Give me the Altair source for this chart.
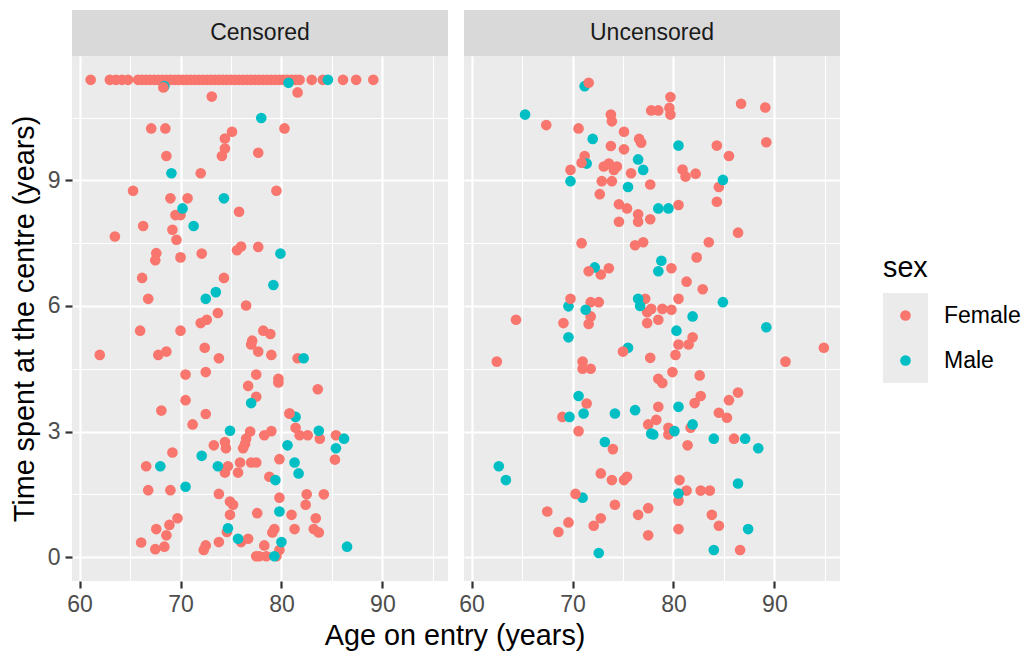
import altair as alt
import pandas as pd

FONT = "Liberation Sans"

status_levels = ["Censored", "Uncensored"]
sex_levels = ["Female", "Male"]
sex_colors = ["#F8766D", "#00BFC4"]

x_ticks = [60, 65, 70, 75, 80, 85, 90, 95]
y_ticks = [0, 1.5, 3, 4.5, 6, 7.5, 9, 10.5]

# (age on entry, time spent at the centre)
cens_female = [
    (61.1, 11.4), (63.0, 11.4), (63.6, 11.4), (64.2, 11.4), (64.8, 11.4), (65.8, 11.4),
    (66.2, 11.4), (66.6, 11.4), (67.0, 11.4), (67.4, 11.4), (67.8, 11.4), (68.2, 11.4),
    (68.6, 11.4), (69.0, 11.4), (69.4, 11.4), (69.8, 11.4), (70.2, 11.4), (70.6, 11.4),
    (71.0, 11.4), (71.4, 11.4), (71.8, 11.4), (72.2, 11.4), (72.6, 11.4), (73.0, 11.4),
    (73.4, 11.4), (73.8, 11.4), (74.2, 11.4), (74.6, 11.4), (75.0, 11.4), (75.4, 11.4),
    (75.8, 11.4), (76.2, 11.4), (76.6, 11.4), (77.0, 11.4), (77.4, 11.4), (77.8, 11.4),
    (78.2, 11.4), (78.6, 11.4), (79.0, 11.4), (79.4, 11.4), (79.8, 11.4), (80.2, 11.4),
    (80.6, 11.4), (81.0, 11.4), (81.4, 11.4), (81.8, 11.4), (83.0, 11.4), (84.1, 11.4),
    (86.1, 11.4), (87.4, 11.4), (89.1, 11.4),
    (73.1, 11.0), (81.6, 11.1), (67.1, 10.24), (68.5, 10.24), (75.1, 10.16), (74.4, 10.0),
    (74.4, 9.76), (74.1, 9.58), (68.6, 9.58), (77.7, 9.66), (80.3, 10.24),
    (72.0, 9.17), (65.3, 8.75), (69.0, 8.57), (70.7, 8.57), (69.5, 8.17), (70.0, 8.17),
    (75.8, 8.25), (66.3, 7.91), (69.2, 7.82), (63.5, 7.66), (69.6, 7.58), (67.6, 7.26),
    (67.5, 7.09), (70.0, 7.16), (72.1, 7.25), (75.6, 7.33), (76.0, 7.42), (77.7, 7.41),
    (79.5, 8.75), (66.2, 6.67), (74.3, 6.67), (66.8, 6.17), (76.5, 6.01), (73.7, 5.83),
    (72.6, 5.67), (72.0, 5.59), (66.0, 5.41), (70.0, 5.41), (77.1, 5.17), (77.0, 5.08),
    (77.7, 4.91), (62.0, 4.83), (67.8, 4.83), (68.6, 4.91), (72.4, 5.0), (73.8, 4.75),
    (70.5, 4.36), (72.5, 4.42), (77.5, 4.36), (78.2, 5.41), (78.9, 5.33), (79.0, 4.83),
    (81.6, 4.75), (79.7, 4.26), (76.7, 4.09), (77.5, 3.83), (70.5, 3.75), (68.1, 3.5),
    (72.5, 3.42), (71.2, 3.17), (76.9, 3.0), (76.5, 2.83), (76.4, 2.71), (76.2, 2.6),
    (73.3, 2.67), (74.4, 2.75), (74.5, 2.6), (69.2, 2.5), (66.6, 2.17), (74.7, 2.17),
    (74.4, 2.02), (75.7, 2.02), (75.9, 2.26), (77.0, 2.26), (77.5, 2.26), (66.8, 1.6),
    (69.0, 1.6), (73.8, 1.51), (74.9, 1.33), (75.2, 1.25), (74.9, 1.01), (77.6, 1.05),
    (69.7, 0.93), (68.9, 0.77), (67.6, 0.67), (68.6, 0.52), (66.1, 0.35), (67.5, 0.19),
    (68.4, 0.25), (74.6, 0.6), (76.0, 0.36), (76.7, 0.44), (73.8, 0.36), (72.3, 0.17),
    (72.5, 0.28), (77.5, 0.02), (79.7, 4.17), (83.6, 4.01), (80.8, 3.43), (81.4, 3.09),
    (81.8, 2.91), (82.6, 2.91), (83.8, 2.83), (85.4, 2.91), (85.3, 2.33), (78.3, 2.91),
    (79.0, 3.01), (79.8, 2.34), (78.8, 1.92), (79.8, 1.42), (81.0, 1.01), (82.5, 1.5),
    (82.4, 1.25), (84.2, 1.5), (81.3, 0.67), (83.4, 0.93), (83.2, 0.67), (83.7, 0.59),
    (79.3, 0.67), (79.1, 0.59), (79.8, 0.17), (78.3, 0.28), (77.8, 0.02), (78.5, 0.02),
    (79.5, 0.02),
]
# female points that lie on top of male points
cens_female_front = [(68.3, 11.22), (80.8, 3.43)]

cens_male = [
    (68.4, 11.25), (80.7, 11.33), (84.6, 11.4), (78.0, 10.49), (69.1, 9.17),
    (74.3, 8.57), (70.2, 8.33), (71.3, 7.91), (73.5, 6.33), (72.5, 6.17), (79.9, 7.25),
    (79.2, 6.5), (82.2, 4.75), (77.0, 3.68), (74.9, 3.02), (72.1, 2.42), (68.0, 2.17),
    (73.7, 2.17), (70.5, 1.68), (74.7, 0.69), (75.7, 0.44), (81.4, 3.35), (83.7, 3.02),
    (86.2, 2.83), (85.4, 2.6), (80.6, 2.67), (81.3, 2.26), (81.7, 2.0), (79.4, 1.84),
    (79.8, 1.09), (80.0, 0.36), (79.3, 0.02), (86.5, 0.25),
]

uncens_female = [
    (67.4, 10.32), (70.6, 10.24), (73.8, 10.57), (73.9, 10.41), (77.8, 10.67),
    (75.1, 10.16), (73.8, 9.82), (75.1, 9.74), (76.6, 9.99), (76.8, 9.9), (71.2, 9.58),
    (69.8, 9.25), (73.1, 9.33), (73.6, 9.4), (74.1, 9.25), (74.4, 9.33),
    (72.9, 8.98), (73.9, 8.98), (75.8, 9.17), (77.7, 8.9), (72.7, 8.67), (74.6, 8.43),
    (75.4, 8.33), (76.5, 8.19), (76.5, 8.01), (74.6, 8.01), (77.7, 8.07), (70.9, 7.5),
    (76.2, 7.45), (77.0, 7.52), (79.7, 10.99), (79.6, 10.73), (79.7, 10.57), (78.5, 10.67),
    (86.7, 10.83), (89.1, 10.74), (84.3, 9.83), (85.5, 9.58), (89.2, 9.91), (80.9, 9.26),
    (81.2, 9.09), (82.2, 9.16), (84.5, 8.84), (84.3, 8.49), (80.5, 8.41), (86.4, 7.75),
    (83.5, 7.52), (72.8, 6.75), (73.6, 6.9), (71.8, 6.09),
    (72.6, 6.09), (71.8, 5.75), (71.6, 5.57), (64.4, 5.67), (69.1, 5.59), (77.2, 6.17),
    (77.4, 5.85), (77.4, 5.59), (77.7, 4.76), (62.5, 4.67), (71.0, 4.67),
    (71.0, 4.5), (71.8, 4.5), (71.4, 3.67), (69.0, 3.35), (79.8, 6.9), (82.3, 7.16),
    (81.3, 6.58), (82.9, 6.4), (80.5, 6.17), (77.8, 5.93), (78.9, 5.93), (79.8, 5.91),
    (78.5, 5.67), (81.9, 5.25), (81.5, 5.08), (80.5, 5.08), (80.2, 4.83), (94.9, 5.0),
    (91.1, 4.67), (79.9, 4.42), (78.5, 4.26), (78.9, 4.16), (82.6, 4.34), (82.7, 3.85),
    (82.1, 3.68), (86.4, 3.93), (85.5, 3.75), (78.5, 3.59), (84.5, 3.45), (85.3, 3.33),
    (78.3, 3.28), (70.6, 3.01), (77.5, 3.17), (72.8, 2.0), (73.9, 1.84),
    (75.1, 1.84), (75.4, 1.92), (74.2, 1.25), (67.5, 1.09), (76.5, 1.01),
    (77.5, 1.17), (69.6, 0.83), (68.6, 0.6), (72.8, 0.93), (72.1, 0.75), (77.5, 0.52),
    (81.7, 3.09), (79.5, 3.09), (79.5, 2.93), (81.4, 2.67), (86.0, 2.83), (80.6, 1.84),
    (80.5, 1.35), (81.3, 1.59), (82.7, 1.59), (83.6, 1.59), (83.8, 1.01), (84.5, 0.75),
    (80.5, 0.67), (86.6, 0.17),
]
# female points that lie on top of male points
uncens_female_front = [
    (71.6, 11.33), (70.9, 9.42), (71.6, 6.83), (69.8, 6.17), (75.0, 4.91), (74.0, 2.58),
    (70.3, 1.51),
]

uncens_male = [
    (71.2, 11.25), (65.3, 10.57), (72.0, 9.99), (71.4, 9.4), (69.8, 8.98), (76.5, 9.5),
    (77.0, 9.25), (75.5, 8.84), (80.5, 9.83), (84.9, 9.01), (78.5, 8.33), (79.5, 8.33),
    (72.2, 6.92), (69.6, 5.99), (71.3, 5.91), (69.6, 5.25), (76.5, 6.17), (76.7, 6.0),
    (75.5, 5.0), (70.6, 3.85), (69.7, 3.35), (71.1, 3.43), (74.2, 3.43), (76.2, 3.51),
    (78.8, 7.08), (78.5, 6.83), (84.9, 6.09), (81.9, 5.75), (80.3, 5.41), (89.2, 5.49),
    (80.5, 3.59), (77.8, 2.95), (73.2, 2.75), (62.7, 2.17), (63.4, 1.84), (71.0, 1.42),
    (72.6, 0.1), (81.9, 3.17), (80.1, 3.01), (78.0, 2.93), (84.0, 2.83), (87.1, 2.83),
    (88.4, 2.6), (80.5, 1.52), (86.4, 1.76), (87.4, 0.67), (84.0, 0.17),
]

rows = []
for status, sex, pts in [
    ("Censored", "Female", cens_female),
    ("Censored", "Male", cens_male),
    ("Censored", "Female", cens_female_front),
    ("Uncensored", "Female", uncens_female),
    ("Uncensored", "Male", uncens_male),
    ("Uncensored", "Female", uncens_female_front),
]:
    for a, t in pts:
        rows.append({"status": status, "sex": sex, "age": a, "time": t})
df = pd.DataFrame(rows)

PW, PH, SH = 376, 525, 46
MAJOR, MINOR = 2.2, 1.1

color = alt.Color("sex:N", scale=alt.Scale(domain=sex_levels, range=sex_colors), legend=None)

common_axis = dict(
    labelFont=FONT, labelFontSize=23, labelColor="#4D4D4D", tickColor="#333333",
    tickWidth=MAJOR, tickSize=7, labelPadding=5, domain=False, gridColor="white",
    titleFont=FONT, titleFontSize=28.75, titleColor="black", titleFontWeight="normal",
)


def panel(status, first):
    xaxis = alt.Axis(
        values=x_ticks,
        labelExpr="datum.value % 10 === 0 ? datum.label : ''",
        gridWidth={"condition": {"test": "datum.value % 10 === 0", "value": MAJOR}, "value": MINOR},
        tickOpacity={"condition": {"test": "datum.value % 10 === 0", "value": 1}, "value": 0},
        title=None,
        labelFlush=False,
        **common_axis,
    )
    yargs = dict(
        values=y_ticks,
        labelExpr="datum.value % 3 === 0 ? datum.label : ''",
        gridWidth={"condition": {"test": "datum.value % 3 === 0", "value": MAJOR}, "value": MINOR},
        tickOpacity={"condition": {"test": "datum.value % 3 === 0", "value": 1}, "value": 0},
        labelFlush=False,
        **common_axis,
    )
    if first:
        yaxis = alt.Axis(title="Time spent at the centre (years)", titlePadding=8, **yargs)
    else:
        yaxis = alt.Axis(title=None, labels=False, ticks=False, **yargs)
    return (
        alt.Chart(df[df.status == status])
        .mark_circle(size=113, opacity=1)
        .encode(
            x=alt.X("age:Q", scale=alt.Scale(domain=[59.25, 96.5], nice=False, zero=False), axis=xaxis),
            y=alt.Y("time:Q", scale=alt.Scale(domain=[-0.57, 11.97], nice=False, zero=False), axis=yaxis),
            color=color,
        )
        .properties(width=PW, height=PH, view=alt.ViewBackground(fill="#EBEBEB", strokeWidth=0))
    )


def strip(status):
    return (
        alt.Chart(pd.DataFrame({"status": [status]}))
        .mark_text(font=FONT, fontSize=23, color="#1A1A1A", baseline="middle")
        .encode(text="status:N", x=alt.value(PW / 2), y=alt.value(SH / 2))
        .properties(width=PW, height=SH, view=alt.ViewBackground(fill="#D9D9D9", strokeWidth=0))
    )


col_c = alt.vconcat(strip("Censored"), panel("Censored", True), spacing=0)
col_u = alt.vconcat(strip("Uncensored"), panel("Uncensored", False), spacing=0)
row = alt.hconcat(
    col_c, col_u, spacing=10,
    title=alt.TitleParams(
        "Age on entry (years)", orient="bottom", anchor="middle", font=FONT,
        fontSize=28.75, fontWeight="normal", color="black", offset=6, dx=30,
    ),
)

# legend (ggplot-style keys with grey background)
legend_df = pd.DataFrame({"sex": sex_levels})
ly = alt.Y("sex:N", axis=None, scale=alt.Scale(domain=sex_levels, range=[283, 373], paddingInner=0, paddingOuter=0))
lbase = alt.Chart(legend_df)
keys = lbase.mark_rect(color="#EBEBEB").encode(x=alt.value(0), x2=alt.value(45), y=ly)
dots = lbase.mark_circle(size=113, opacity=1).encode(x=alt.value(22.5), y=ly, color=color)
labels = lbase.mark_text(font=FONT, fontSize=23, color="black", align="left", baseline="middle").encode(
    x=alt.value(61), y=ly, text="sex:N")
ltitle = alt.Chart(pd.DataFrame({"t": ["sex"]})).mark_text(
    font=FONT, fontSize=28.75, color="black", align="left", baseline="middle"
).encode(x=alt.value(0), y=alt.value(258), text="t:N")
legend = alt.layer(keys, dots, labels, ltitle).properties(
    width=135, height=PH + SH, view=alt.ViewBackground(strokeWidth=0)
)

chart = (
    alt.hconcat(row, legend, spacing=43)
    .properties(padding={"left": 10, "top": 10, "right": 0, "bottom": 0}, background="white")
    .configure_view(strokeWidth=0)
)

chart.save("out.html", embed_options={"renderer": "svg", "actions": False})
